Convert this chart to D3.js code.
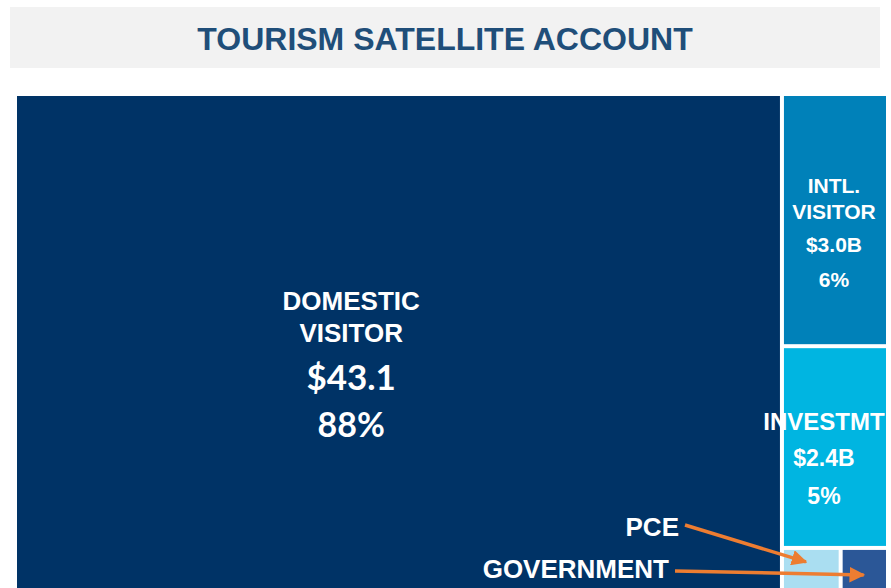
<!DOCTYPE html>
<html>
<head>
<meta charset="utf-8">
<style>
  body { margin: 0; background: #fff; }
  svg { display: block; }
</style>
</head>
<body>
<script src="https://d3js.org/d3.v7.min.js"></script>
<script>

// values in $B
var names  = ["DOMESTIC VISITOR", "INTL. VISITOR", "INVESTMT", "PCE", "GOVERNMENT"];
var values = [43.1, 3.0, 2.4, 0.31, 0.25];
var amounts = ["$43.1", "$3.0B", "$2.4B", "", ""];
var shares  = ["88%", "6%", "5%", "", ""];
var colors  = ["#003366", "#0081b9", "#00b5e1", "#aadef1", "#2b5797"];

var W = 891, H = 588;
var svg = d3.select("body").append("svg")
    .attr("width", W)
    .attr("height", H);

// title band
svg.append("rect")
    .attr("x", 10).attr("y", 7)
    .attr("width", 870).attr("height", 61)
    .attr("fill", "#f2f2f2");

svg.append("text")
    .attr("x", 445).attr("y", 50)
    .attr("text-anchor", "middle")
    .attr("font-family", "Liberation Sans, Arial, sans-serif")
    .attr("font-weight", "bold")
    .attr("font-size", 32)
    .attr("fill", "#1f4e79")
    .text("TOURISM SATELLITE ACCOUNT");

// hierarchy: domestic | (intl / investmt / (pce | gov))
var leaves = names.map((n, i) => ({name: n, value: values[i], idx: i}));
var tree = {name: "root", children: [
    leaves[0],
    {name: "other", children: [
        leaves[1], leaves[2],
        {name: "small", children: [leaves[3], leaves[4]]}
    ]}
]};

var root = d3.hierarchy(tree).sum(d => d.value || 0);

d3.treemap()
    .size([869, 497])
    .paddingInner(4)
    .tile((node, x0, y0, x1, y1) => {
        if (node.depth % 2 === 0) d3.treemapDice(node, x0, y0, x1, y1);
        else d3.treemapSlice(node, x0, y0, x1, y1);
    })(root);

var g = svg.append("g").attr("transform", "translate(17,96)");

g.selectAll("rect.cell")
    .data(root.leaves())
  .enter().append("rect")
    .attr("class", "cell")
    .attr("x", d => d.x0)
    .attr("y", d => d.y0)
    .attr("width", d => d.x1 - d.x0)
    .attr("height", d => d.y1 - d.y0)
    .attr("fill", d => colors[d.data.idx]);

var leaf = root.leaves();
var dom = leaf[0], intl = leaf[1], inv = leaf[2], pce = leaf[3], gov = leaf[4];

function label(x, y, txt, size, fam) {
    g.append("text")
        .attr("x", x).attr("y", y)
        .attr("text-anchor", "middle")
        .attr("font-family", fam || "Liberation Sans, Arial, sans-serif")
        .attr("font-weight", "bold")
        .attr("font-size", size)
        .attr("fill", "#fff")
        .text(txt);
}

// domestic
var dx = dom.x0 + (dom.x1 - dom.x0) * 0.438;
label(dx, 214, "DOMESTIC", 26);
label(dx, 246, "VISITOR", 26);
label(dx, 294, amounts[0], 35, "Lato, sans-serif");
label(dx, 341, shares[0], 34, "Lato, sans-serif");

// intl
var ix = (intl.x0 + intl.x1) / 2 - 1;
label(ix, intl.y0 + 97, "INTL.", 21);
label(ix, intl.y0 + 123, "VISITOR", 21);
label(ix, intl.y0 + 156, amounts[1], 21);
label(ix, intl.y0 + 191, shares[1], 21);

// investment
var vx = (inv.x0 + inv.x1) / 2 - 11;
label(vx, inv.y0 + 82, "INVESTMT", 24);
label(vx, inv.y0 + 118, amounts[2], 23);
label(vx, inv.y0 + 156, shares[2], 23);

// callouts for the small cells
svg.append("defs").append("marker")
    .attr("id", "arr")
    .attr("viewBox", "0 0 10 10")
    .attr("refX", 9).attr("refY", 5)
    .attr("markerWidth", 4.5).attr("markerHeight", 4.5)
    .attr("orient", "auto")
  .append("path")
    .attr("d", "M0,0L10,5L0,10z")
    .attr("fill", "#ed7d31");

function callout(txt, tx, ty, target, ox, oy, sx, sy) {
    svg.append("text")
        .attr("x", tx).attr("y", ty)
        .attr("text-anchor", "end")
        .attr("font-family", "Liberation Sans, Arial, sans-serif")
        .attr("font-weight", "bold")
        .attr("font-size", 26)
        .attr("fill", "#fff")
        .text(txt);
    svg.append("line")
        .attr("x1", sx).attr("y1", sy)
        .attr("x2", 17 + target.x0 + ox).attr("y2", 96 + target.y0 + oy)
        .attr("stroke", "#ed7d31")
        .attr("stroke-width", 3.5)
        .attr("marker-end", "url(#arr)");
}

callout("PCE", 679, 536, pce, 22, 12, 685, 525);
callout("GOVERNMENT", 669, 578, gov, 21, 25, 675, 571);

</script>
</body>
</html>
